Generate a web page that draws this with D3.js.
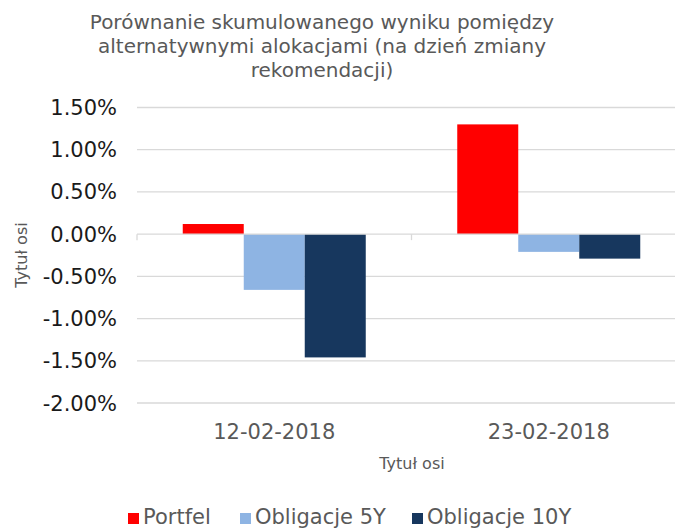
<!DOCTYPE html>
<html>
<head>
<meta charset="utf-8">
<script src="https://cdn.jsdelivr.net/npm/d3@7"></script>
<style>
  body { margin: 0; background: #fff; }
  text { font-family: "DejaVu Sans", Verdana, sans-serif; }
</style>
</head>
<body>
<div id="chart"></div>
<script>
// data
var dates = ['12-02-2018', '23-02-2018'];
var series = ['Portfel', 'Obligacje 5Y', 'Obligacje 10Y'];
var portfel = [0.0012, 0.0130];
var oblig5 = [-0.0066, -0.0021];
var oblig10 = [-0.0146, -0.0029];
var yTicks = [0.015, 0.01, 0.005, 0, -0.005, -0.01, -0.015, -0.02];
var colors = ['#ff0000', '#8eb4e3', '#17375e'];
var titleLines = ['Porównanie skumulowanego wyniku pomiędzy', 'alternatywnymi alokacjami (na dzień zmiany', 'rekomendacji)'];

var width = 675, height = 529;
var plotLeft = 137, plotRight = 686, plotTop = 107.5, plotBottom = 403;

var svg = d3.select('#chart').append('svg')
	.attr('width', width)
	.attr('height', height);

var rows = dates.map((d, i) => ({ date: d, values: [portfel[i], oblig5[i], oblig10[i]] }));

var y = d3.scaleLinear().domain([-0.02, 0.015]).range([plotBottom, plotTop]);
var x0 = d3.scaleBand().domain(dates).range([plotLeft, plotRight]);
var x1 = d3.scaleBand().domain(series).range([0, x0.bandwidth()]).paddingOuter(0.75);

var pct = d3.formatLocale({ decimal: '.', thousands: ',', grouping: [3], currency: ['', ''], minus: '-' }).format('.2%');

// title
svg.append('text')
	.attr('x', 322).attr('y', 29)
	.attr('text-anchor', 'middle')
	.attr('fill', '#595959')
	.style('font-size', '20px')
	.selectAll('tspan').data(titleLines).enter()
	.append('tspan')
		.attr('x', 322)
		.attr('dy', (d, i) => i ? 24 : 0)
		.text(d => d);

// gridlines
svg.append('g').selectAll('line').data(yTicks.filter(d => d !== 0)).enter()
	.append('line')
	.attr('x1', plotLeft).attr('x2', plotRight)
	.attr('y1', d => y(d)).attr('y2', d => y(d))
	.attr('stroke', '#d9d9d9').attr('stroke-width', 1.3);

// y tick labels
svg.append('g').selectAll('text').data(yTicks).enter()
	.append('text')
	.attr('x', 117).attr('y', d => y(d))
	.attr('dy', '0.36em')
	.attr('text-anchor', 'end')
	.attr('fill', '#1a1a1a')
	.style('font-size', '21px')
	.text(d => pct(d));

// bars
var groups = svg.append('g').selectAll('g').data(rows).enter()
	.append('g')
	.attr('transform', d => 'translate(' + x0(d.date) + ',0)');

groups.selectAll('rect')
	.data(d => d.values.map((v, i) => ({ key: series[i], value: v, i: i })))
	.enter().append('rect')
	.attr('x', d => x1(d.key))
	.attr('width', x1.bandwidth())
	.attr('y', d => y(Math.max(0, d.value)))
	.attr('height', d => Math.abs(y(d.value) - y(0)))
	.attr('fill', d => colors[d.i]);

// category axis at zero
svg.append('line')
	.attr('x1', plotLeft).attr('x2', plotRight)
	.attr('y1', y(0)).attr('y2', y(0))
	.attr('stroke', '#d9d9d9').attr('stroke-width', 1.3);

svg.append('g').selectAll('line').data(dates).enter()
	.append('line')
	.attr('x1', d => x0(d)).attr('x2', d => x0(d))
	.attr('y1', y(0)).attr('y2', y(0) + 6)
	.attr('stroke', '#d9d9d9').attr('stroke-width', 1.3);

// category labels
svg.append('g').selectAll('text').data(dates).enter()
	.append('text')
	.attr('x', d => x0(d) + x0.bandwidth() / 2)
	.attr('y', 439)
	.attr('text-anchor', 'middle')
	.attr('fill', '#595959')
	.style('font-size', '21px')
	.text(d => d);

// axis titles
svg.append('text')
	.attr('x', 412).attr('y', 469)
	.attr('text-anchor', 'middle')
	.attr('fill', '#595959')
	.style('font-size', '16px')
	.text('Tytuł osi');

svg.append('text')
	.attr('transform', 'translate(27,255) rotate(-90)')
	.attr('text-anchor', 'middle')
	.attr('fill', '#595959')
	.style('font-size', '16px')
	.text('Tytuł osi');

// legend
var legendX = [128, 240, 412];
var legend = svg.append('g').selectAll('g').data(series).enter()
	.append('g')
	.attr('transform', (d, i) => 'translate(' + legendX[i] + ',524)');

legend.append('rect')
	.attr('x', 0).attr('y', -11)
	.attr('width', 11).attr('height', 11)
	.attr('fill', (d, i) => colors[i]);

legend.append('text')
	.attr('x', 15).attr('y', 0)
	.attr('fill', '#595959')
	.style('font-size', '21px')
	.text(d => d);
</script>
</body>
</html>
